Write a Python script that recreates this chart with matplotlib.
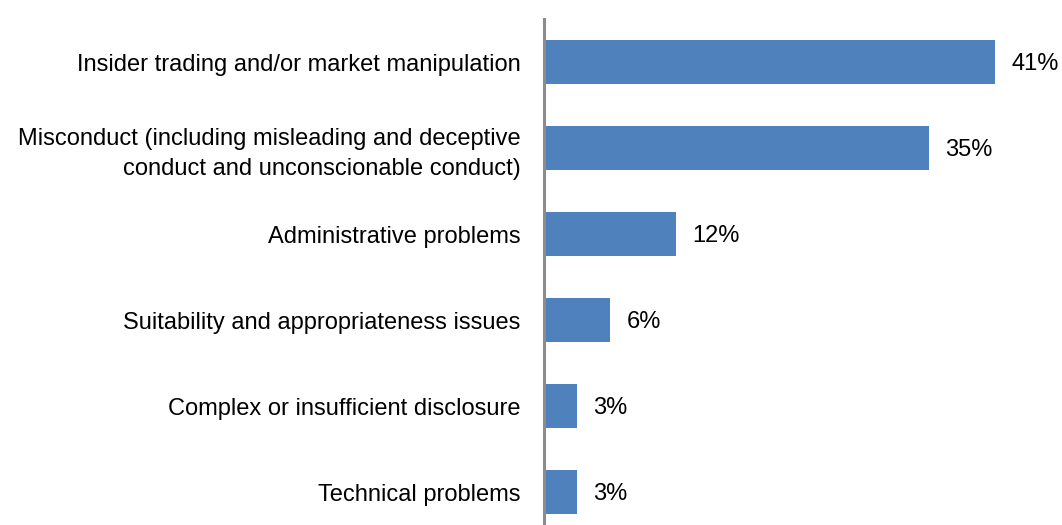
import matplotlib

matplotlib.use("Agg")
import matplotlib.pyplot as plt
import numpy as np

plt.rcParams["font.family"] = ["Liberation Sans", "DejaVu Sans"]

categories = [
    "Insider trading and/or market manipulation",
    "Misconduct (including misleading and deceptive\nconduct and unconscionable conduct)",
    "Administrative problems",
    "Suitability and appropriateness issues",
    "Complex or insufficient disclosure",
    "Technical problems",
]
shares = [41, 35, 12, 6, 3, 3]
value_labels = ["41%", "35%", "12%", "6%", "3%", "3%"]

fig = plt.figure(figsize=(10.62, 5.25), dpi=100)
ax = fig.add_axes([544 / 1062, -10 / 525, 517 / 1062, 516 / 525])

y = np.arange(len(categories))
ax.barh(y, shares, height=0.52, color="#4F81BD")
for yi, v, lab in zip(y, shares, value_labels):
    ax.text(v + 1.5, yi, lab, va="center_baseline", ha="left", fontsize=17, color="#000000")

ax.set_ylim(len(categories) - 0.5, -0.5)
ax.set_xlim(0, 47)
ax.set_yticks(y)
ax.set_yticklabels(categories, fontsize=17, linespacing=1.45)
ax.tick_params(axis="y", length=0, pad=17)
ax.set_xticks([])
for side in ["top", "right", "bottom"]:
    ax.spines[side].set_visible(False)
ax.spines["left"].set_color("#8c8c8c")
ax.spines["left"].set_linewidth(2.2)

fig.savefig("out.png", dpi=100)
